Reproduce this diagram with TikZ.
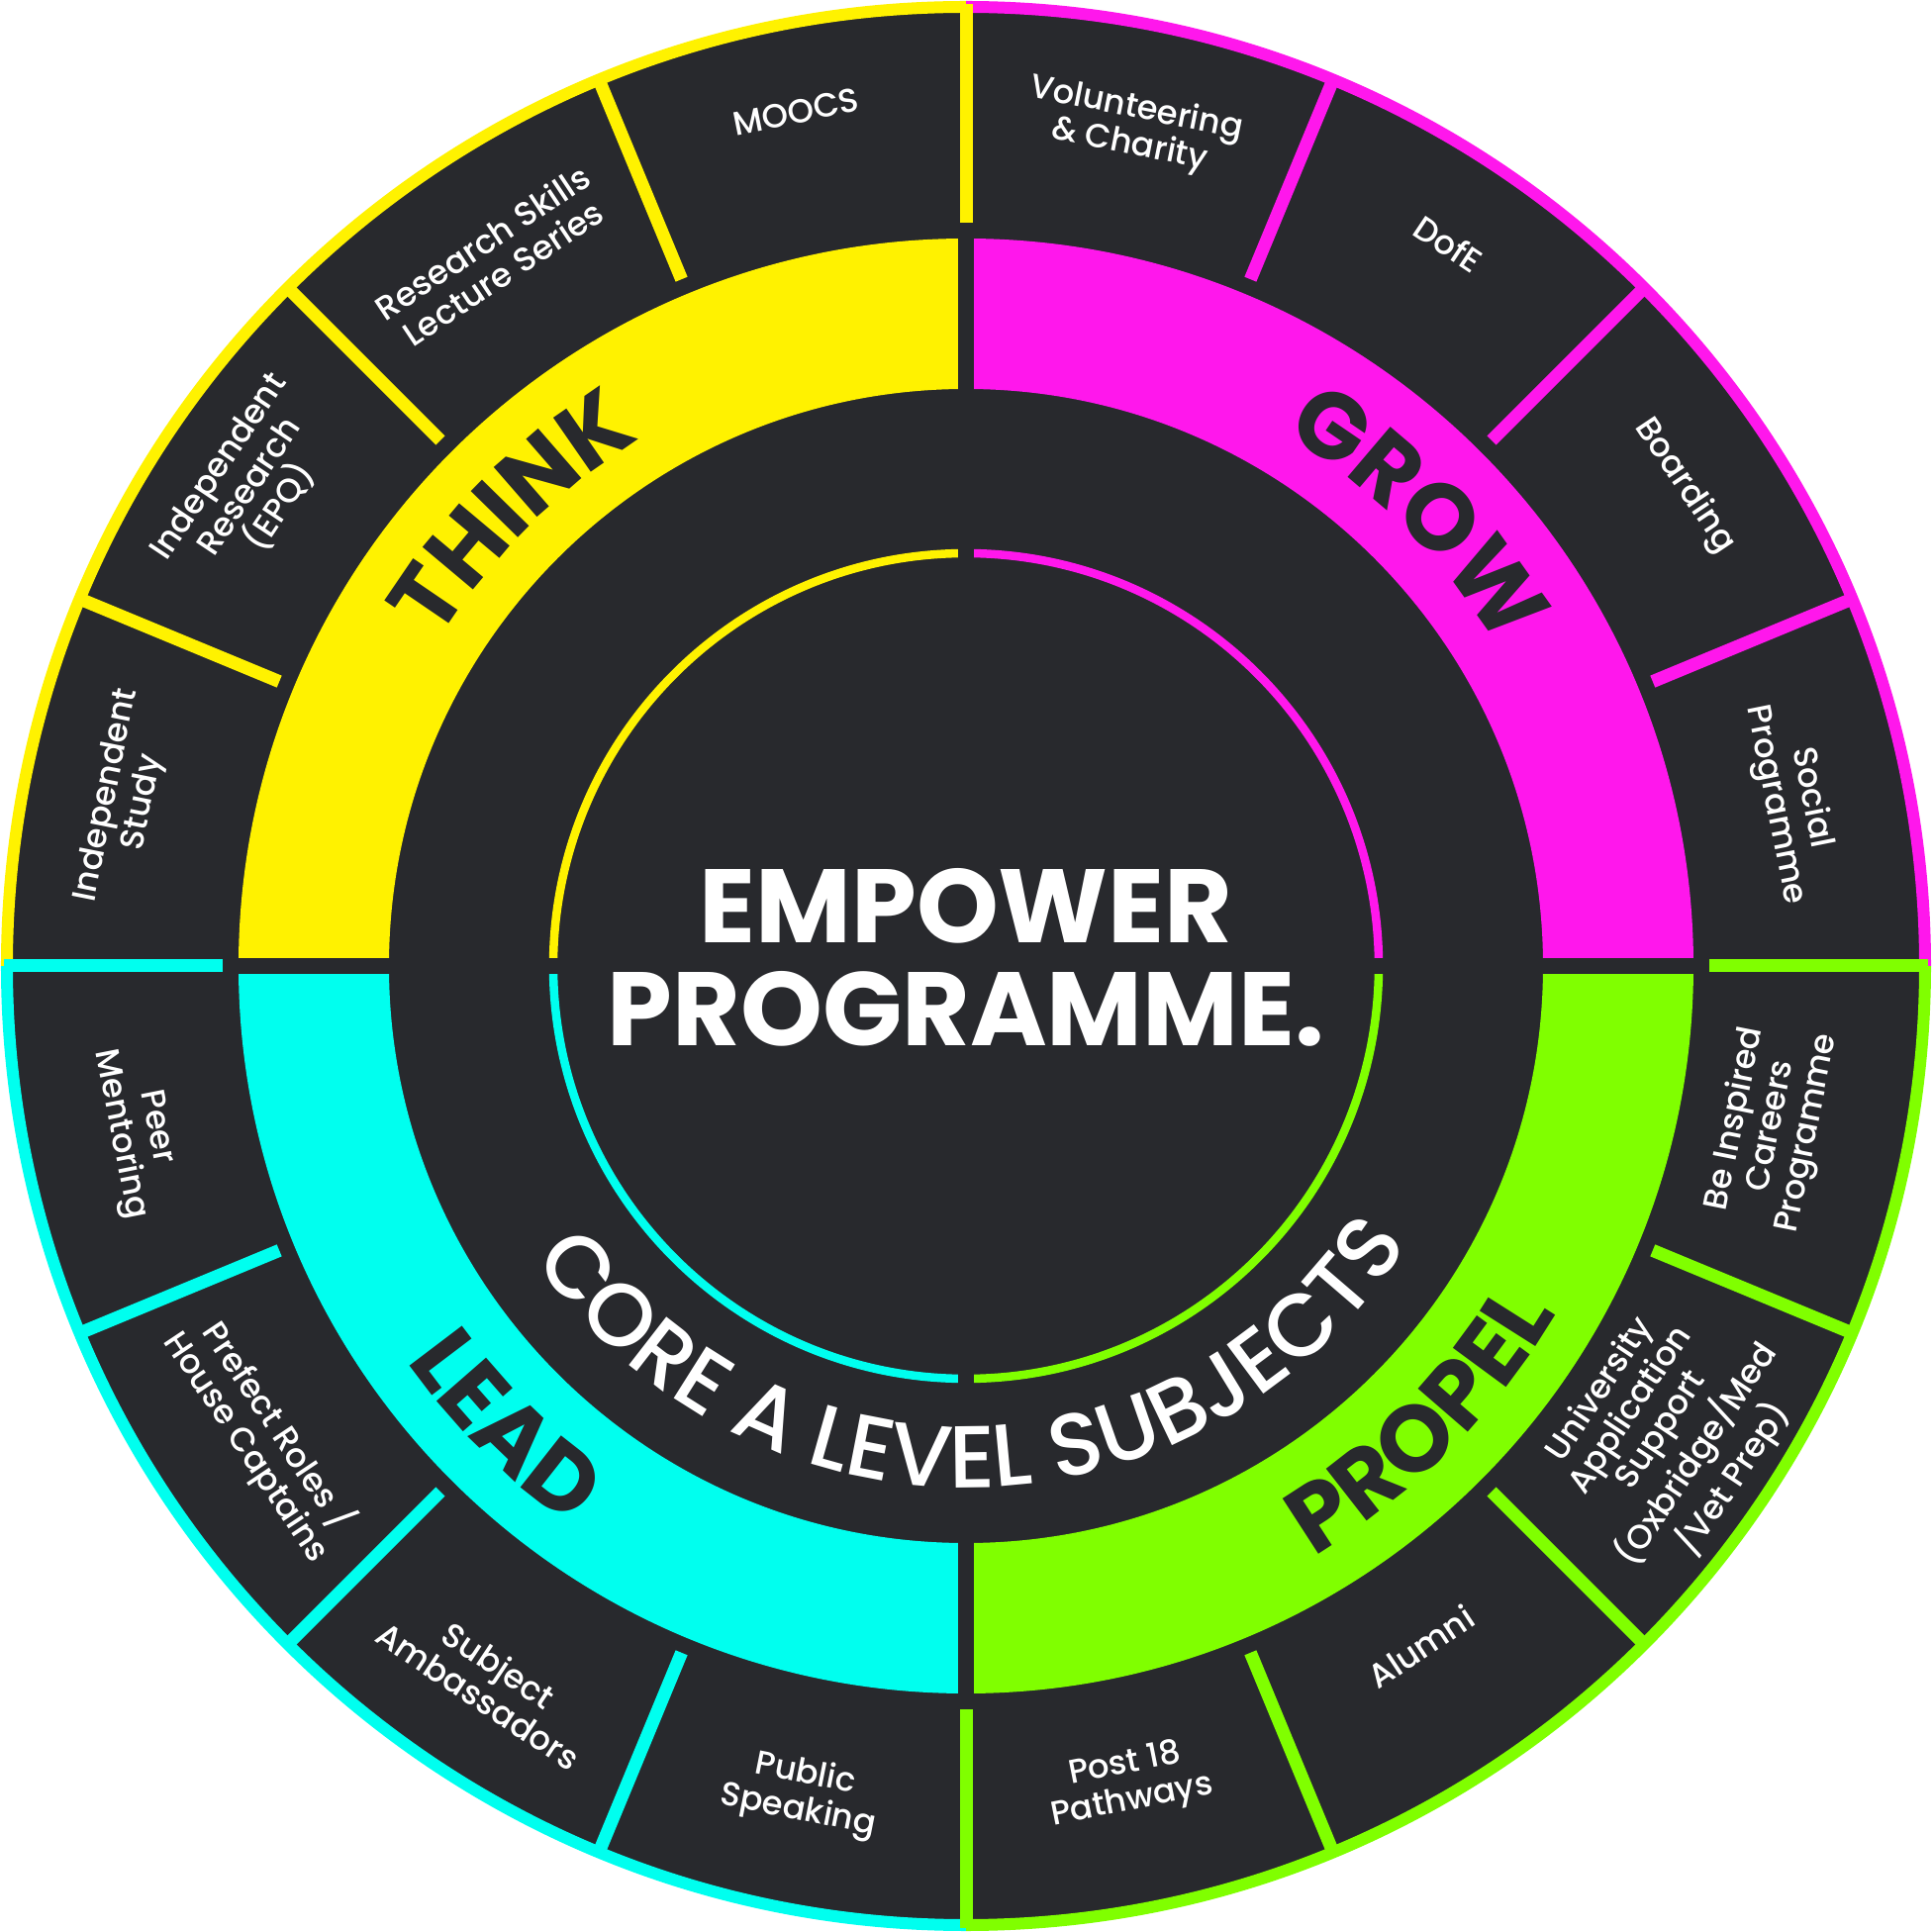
\documentclass[tikz,border=0pt]{standalone}
\usepackage{fontspec}
\setmainfont{Poppins}
\newfontfamily\medfont{Poppins Medium}
\usetikzlibrary{decorations.text}
\definecolor{ink}{HTML}{28292D}
\definecolor{thinkyel}{HTML}{FFF200}
\definecolor{growpink}{HTML}{FF17EC}
\definecolor{leadcyan}{HTML}{00FFEF}
\definecolor{propgreen}{HTML}{80FF00}
\newcommand{\bandfont}{\fontsize{27}{27}\selectfont\bfseries}
\newcommand{\corefont}{\medfont\fontsize{25.3}{25.3}\selectfont}

\begin{document}
\begin{tikzpicture}[x=1cm,y=1cm,
  lbl/.style={text=white,align=center,inner sep=0pt,font=\medfont\fontsize{9.6}{10.6}\selectfont},
  rim/.style={line width=0.12cm},
  ring/.style={line width=0.085cm},
  divline/.style={line width=0.13cm}]
\useasboundingbox (-9.76,-9.76) rectangle (9.76,9.76);
\fill[white] (-9.76,-9.76) rectangle (9.76,9.76);
\fill[ink] (0,0) circle (9.70);

\fill[thinkyel] (90:7.35) arc[start angle=90,end angle=180,radius=7.35] -- (180:5.83) arc[start angle=180,end angle=90,radius=5.83] -- cycle;
\fill[growpink] (0:7.35) arc[start angle=0,end angle=90,radius=7.35] -- (90:5.83) arc[start angle=90,end angle=0,radius=5.83] -- cycle;
\fill[leadcyan] (180:7.35) arc[start angle=180,end angle=270,radius=7.35] -- (270:5.83) arc[start angle=270,end angle=180,radius=5.83] -- cycle;
\fill[propgreen] (270:7.35) arc[start angle=270,end angle=360,radius=7.35] -- (0:5.83) arc[start angle=360,end angle=270,radius=5.83] -- cycle;

\draw[thinkyel,ring] (90:4.17) arc[start angle=90,end angle=180,radius=4.17];
\draw[growpink,ring] (0:4.17) arc[start angle=0,end angle=90,radius=4.17];
\draw[leadcyan,ring] (180:4.17) arc[start angle=180,end angle=270,radius=4.17];
\draw[propgreen,ring] (270:4.17) arc[start angle=270,end angle=360,radius=4.17];

\draw[ink,line width=0.16cm] (0,-7.45) -- (0,7.45);
\draw[ink,line width=0.16cm] (-7.45,0) -- (7.45,0);

\draw[thinkyel,rim] (90:9.69) arc[start angle=90,end angle=180,radius=9.69];
\draw[growpink,rim] (0:9.69) arc[start angle=0,end angle=90,radius=9.69];
\draw[leadcyan,rim] (180:9.69) arc[start angle=180,end angle=270,radius=9.69];
\draw[propgreen,rim] (270:9.69) arc[start angle=270,end angle=360,radius=9.69];

\draw[thinkyel,divline] (90:7.51) -- (90:9.72);
\draw[thinkyel,divline] (112.5:7.51) -- (112.5:9.68);
\draw[thinkyel,divline] (135:7.51) -- (135:9.68);
\draw[thinkyel,divline] (157.5:7.51) -- (157.5:9.68);
\draw[leadcyan,divline] (180:7.51) -- (180:9.72);
\draw[leadcyan,divline] (202.5:7.51) -- (202.5:9.68);
\draw[leadcyan,divline] (225:7.51) -- (225:9.68);
\draw[leadcyan,divline] (247.5:7.51) -- (247.5:9.68);
\draw[propgreen,divline] (270:7.51) -- (270:9.72);
\draw[propgreen,divline] (292.5:7.51) -- (292.5:9.68);
\draw[propgreen,divline] (315:7.51) -- (315:9.68);
\draw[propgreen,divline] (337.5:7.51) -- (337.5:9.68);
\draw[propgreen,divline] (0:7.51) -- (0:9.72);
\draw[growpink,divline] (22.5:7.51) -- (22.5:9.68);
\draw[growpink,divline] (45:7.51) -- (45:9.68);
\draw[growpink,divline] (67.5:7.51) -- (67.5:9.68);

\path[decorate,decoration={text along path,text align=center,text color=ink,text={|\bandfont|THINK}}]
  (180:6.26) arc[start angle=180,end angle=90,radius=6.26];
\path[decorate,decoration={text along path,text align=center,text color=ink,text={|\bandfont|GROW}}]
  (90:6.26) arc[start angle=90,end angle=0,radius=6.26];
\path[decorate,decoration={text along path,text align=center,text color=ink,text={|\bandfont|LEAD}}]
  (180:6.92) arc[start angle=180,end angle=270,radius=6.92];
\path[decorate,decoration={text along path,text align=center,text color=ink,text={|\bandfont|PROPEL}}]
  (270:6.92) arc[start angle=270,end angle=360,radius=6.92];
\path[decorate,decoration={text along path,text align=center,text color=white,text={|\corefont|CORE A LEVEL SUBJECTS}}]
  (181:5.27) arc[start angle=181,end angle=361,radius=5.27];

\node[text=white,align=center,font=\fontsize{30}{29.6}\selectfont\bfseries] (empower) at (0,0.09) {EMPOWER\\PROGRAMME.};

\node[lbl,rotate=11.25] (moocs) at (101.25:8.8) {MOOCS};
\node[lbl,rotate=33.75] (research) at (123.75:8.61) {Research Skills\\Lecture Series};
\node[lbl,rotate=56.25] (epq) at (146.25:8.7) {Independent\\Research\\(EPQ)};
\node[lbl,rotate=78.75] (study) at (168.75:8.66) {Independent\\Study};
\node[lbl,rotate=-11.25] (volunteer) at (78.75:8.64) {Volunteering\\\& Charity};
\node[lbl,rotate=-33.75] (dofe) at (56.25:8.78) {DofE};
\node[lbl,rotate=-56.25] (boarding) at (33.75:8.73) {Boarding};
\node[lbl,rotate=-78.75] (social) at (11.25:8.52) {Social\\Programme};
\node[lbl,rotate=78.75] (inspired) at (-11.25:8.3) {Be Inspired\\Careers\\Programme};
\node[lbl,rotate=56.25] (uni) at (-33.75:8.53) {University\\Application\\Support\\(Oxbridge/Med\\/Vet Prep)};
\node[lbl,rotate=33.75] (alumni) at (-56.25:8.27) {Alumni};
\node[lbl,rotate=11.25] (post) at (-78.75:8.42) {Post 18\\Pathways};
\node[lbl,rotate=-11.25] (public) at (258.75:8.52) {Public\\Speaking};
\node[lbl,rotate=-33.75] (ambass) at (236.25:8.68) {Subject\\Ambassadors};
\node[lbl,rotate=-56.25] (prefect) at (213.75:8.55) {Prefect Roles /\\House Captains};
\node[lbl,rotate=-78.75] (peer) at (191.25:8.54) {Peer\\Mentoring};
\end{tikzpicture}
\end{document}
